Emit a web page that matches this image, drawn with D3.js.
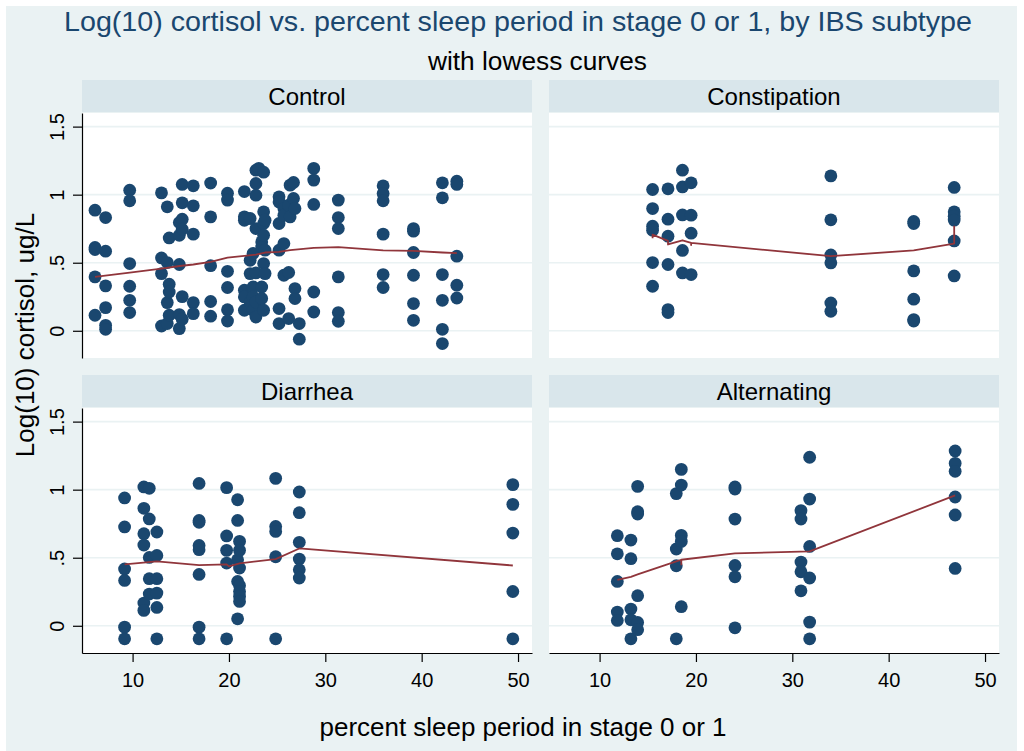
<!DOCTYPE html>
<html><head><meta charset="utf-8">
<script src="https://cdn.jsdelivr.net/npm/d3@7"></script>
<style>
body{margin:0;background:#fff}
svg{display:block}
text{font-family:"Liberation Sans",Arial,sans-serif}
</style>
</head><body>
<svg id="chart" width="1024" height="751"></svg>
<script>
// ---------- DATA ----------
const titleText = "Log(10) cortisol vs. percent sleep period in stage 0 or 1, by IBS subtype";
const subtitleText = "with lowess curves";
const xTitleText = "percent sleep period in stage 0 or 1";
const yTitleText = "Log(10) cortisol, ug/L";
const panelNames = ["Control", "Constipation", "Diarrhea", "Alternating"];
const xTicks = [10, 20, 30, 40, 50];
const yTicks = [0, 0.5, 1, 1.5];
const yTickLabels = ["0", ".5", "1", "1.5"];

const controlPts = [
[6.1,0.886],[6.1,0.612],[6.1,0.597],[6.1,0.396],[6.1,0.114],
[7.2,0.832],[7.2,0.585],[7.2,0.33],[7.2,0.17],[7.2,0.04],[7.2,0.011],
[9.7,1.033],[9.7,0.955],[9.7,0.494],[9.7,0.327],[9.7,0.224],[9.7,0.134],
[13.0,1.013],[13.0,0.535],[13.0,0.42],[13.0,0.035],
[13.6,0.911],[13.6,0.501],[13.6,0.207],[13.6,0.053],
[13.8,0.682],[13.8,0.342],[13.8,0.285],[13.8,0.114],
[14.85,0.795],[14.85,0.702],[14.85,0.487],[14.85,0.119],[14.85,0.016],
[15.15,1.075],[15.15,0.94],[15.15,0.82],[15.15,0.746],[15.15,0.251],[15.15,0.085],
[16.3,1.065],[16.3,0.918],[16.3,0.71],[16.3,0.207],[16.3,0.126],
[18.1,1.085],[18.1,0.837],[18.1,0.478],[18.1,0.215],[18.1,0.107],
[19.85,1.011],[19.85,0.96],[19.85,0.437],[19.85,0.318],[19.85,0.155],[19.85,0.072],
[21.6,1.023],[21.6,0.837],[21.6,0.812],[21.6,0.298],[21.6,0.249],[21.6,0.151],
[22.2,0.825],[22.2,0.518],[22.2,0.42],[22.2,0.212],
[22.5,0.568],[22.5,0.322],[22.5,0.249],[22.5,0.151],
[22.8,1.18],[22.8,1.082],[22.8,0.996],[22.8,0.751],[22.8,0.425],[22.8,0.212],[22.8,0.101],
[23.1,1.193],
[23.4,0.653],[23.4,0.616],[23.4,0.322],[23.4,0.237],
[23.6,1.165],[23.6,0.874],[23.6,0.788],[23.6,0.702],[23.6,0.494],[23.6,0.151],
[23.75,0.812],[23.75,0.592],[23.75,0.42],
[25.2,0.984],[25.2,0.947],[25.2,0.788],[25.2,0.592],[25.2,0.163],[25.2,0.053],
[25.7,0.898],[25.7,0.849],[25.7,0.641],[25.7,0.408],
[26.2,0.923],[26.2,0.428],[26.2,0.09],
[26.35,1.07],[26.35,0.837],
[26.7,1.09],[26.7,0.972],
[26.85,0.898],[26.85,0.31],[26.85,0.237],
[27.3,0.053],[27.3,-0.062],
[28.8,1.193],[28.8,1.107],[28.8,0.928],[28.8,0.285],[28.8,0.138],
[31.35,0.96],[31.35,0.832],[31.35,0.751],[31.35,0.396],[31.35,0.134],[31.35,0.07],
[36.0,1.065],[36.0,1.009],[36.0,0.955],[36.0,0.71],[36.0,0.413],[36.0,0.318],
[39.15,0.751],[39.15,0.732],[39.15,0.575],[39.15,0.408],[39.15,0.2],[39.15,0.077],
[42.15,1.087],[42.15,0.977],[42.15,0.413],[42.15,0.224],[42.15,0.011],[42.15,-0.094],
[43.65,1.099],[43.65,1.075],[43.65,0.548],[43.65,0.335],[43.65,0.241]
];
const controlLowess = [[6.1,0.396],[9.7,0.428],[13.0,0.457],[14.9,0.476],[16.3,0.487],[18.1,0.506],
[19.85,0.538],[21.6,0.55],[22.8,0.56],[23.75,0.575],[25.2,0.579],[26.35,0.592],[28.8,0.609],
[31.35,0.614],[36.0,0.59],[39.15,0.587],[42.15,0.575],[43.65,0.57]];

const constipationPts = [
[15.5,1.038],[15.5,0.898],[15.5,0.768],[15.5,0.739],[15.5,0.501],[15.5,0.327],
[17.1,1.043],[17.1,0.82],[17.1,0.695],[17.1,0.487],[17.1,0.156],[17.1,0.134],
[18.6,1.18],[18.6,1.057],[18.6,0.851],[18.6,0.59],[18.6,0.425],
[19.5,1.087],[19.5,0.849],[19.5,0.717],[19.5,0.413],
[34.0,1.138],[34.0,0.815],[34.0,0.557],[34.0,0.499],[34.0,0.204],[34.0,0.143],
[42.6,0.803],[42.6,0.788],[42.6,0.44],[42.6,0.232],[42.6,0.082],[42.6,0.072],
[46.8,1.053],[46.8,0.874],[46.8,0.842],[46.8,0.813],[46.8,0.66],[46.8,0.403]
];
const constipationLowess = [[15.5,0.68],[15.5,0.707],[17.1,0.66],[17.1,0.634],[18.6,0.665],
[19.5,0.646],[19.5,0.63],[19.5,0.646],[34.0,0.548],[42.6,0.59],[46.8,0.641],[46.8,0.771]];

const diarrheaPts = [
[9.17,0.939],[9.17,0.726],[9.17,0.417],[9.17,0.333],[9.17,-0.01],[9.17,-0.096],
[11.17,1.02],[11.17,0.863],[11.17,0.676],[11.17,0.593],[11.17,0.167],[11.17,0.113],
[11.73,1.01],[11.73,0.785],[11.73,0.502],[11.73,0.346],[11.73,0.233],
[12.52,0.689],[12.52,0.517],[12.52,0.346],[12.52,0.24],[12.52,0.135],[12.52,-0.096],
[16.9,1.046],[16.9,0.774],[16.9,0.76],[16.9,0.59],[16.9,0.559],[16.9,0.377],[16.9,-0.01],[16.9,-0.096],
[19.76,1.015],[19.76,0.66],[19.76,0.554],[19.76,0.461],[19.76,-0.096],
[20.9,0.926],[20.9,0.774],[20.9,0.485],[20.9,0.326],[20.9,0.051],
[21.1,0.62],[21.1,0.554],[21.1,0.424],[21.1,0.296],[21.1,0.252],[21.1,0.216],[21.1,0.179],
[24.85,1.083],[24.85,0.73],[24.85,0.693],[24.85,0.507],[24.85,-0.096],
[27.3,0.983],[27.3,0.831],[27.3,0.613],[27.3,0.49],[27.3,0.412],[27.3,0.351],
[49.46,1.037],[49.46,0.892],[49.46,0.681],[49.46,0.252],[49.46,-0.096]
];
const diarrheaLowess = [[9.17,0.451],[12.52,0.473],[16.9,0.446],[19.76,0.451],[20.0,0.436],
[21.1,0.458],[24.85,0.49],[27.3,0.568],[49.46,0.443]];

const alternatingPts = [
[11.84,0.662],[11.84,0.529],[11.84,0.326],[11.84,0.101],[11.84,0.039],
[13.25,0.63],[13.25,0.493],[13.25,0.123],[13.25,0.044],[13.25,-0.096],
[13.95,1.024],[13.95,0.838],[13.95,0.821],[13.95,0.221],[13.95,0.024],[13.95,-0.029],
[17.96,0.971],[17.96,0.564],[17.96,0.441],[17.96,-0.096],
[18.48,1.149],[18.48,1.034],[18.48,0.664],[18.48,0.62],[18.48,0.14],
[24.05,1.02],[24.05,1.005],[24.05,0.784],[24.05,0.443],[24.05,0.36],[24.05,-0.015],
[30.9,0.846],[30.9,0.784],[30.9,0.468],[30.9,0.397],[30.9,0.257],
[31.8,1.238],[31.8,0.931],[31.8,0.583],[31.8,0.351],[31.8,0.027],[31.8,-0.096],
[46.9,1.284],[46.9,1.193],[46.9,1.135],[46.9,0.946],[46.9,0.814],[46.9,0.421]
];
const alternatingLowess = [[11.84,0.338],[13.25,0.36],[13.95,0.377],[17.96,0.473],[18.48,0.485],
[18.48,0.451],[18.48,0.485],[24.05,0.532],[31.8,0.546],[46.9,0.958]];

const panelPoints = [controlPts, constipationPts, diarrheaPts, alternatingPts];
const panelLowess = [controlLowess, constipationLowess, diarrheaLowess, alternatingLowess];

// ---------- LAYOUT ----------
const W = 1024, H = 751;
const plotW = 450, plotH = 245;
const colX = [82, 549];
const rowY = [113, 408];
const stripH = 33;
const xDomain = [4.75, 51.45];
const yDomain = [-0.2, 1.6];
const colors = {bg: "#eaf2f3", strip: "#d9e6eb", marker: "#1a476f", line: "#90353b", grid: "#eaf2f3", title: "#1a476f"};

const svg = d3.select("#chart");
svg.append("rect").attr("x", 0).attr("y", 0).attr("width", W).attr("height", H).attr("fill", "#fff");
svg.append("rect").attr("x", 6).attr("y", 6).attr("width", 1011).attr("height", 745).attr("fill", colors.bg);

function fitText(sel, width) {
  sel.attr("textLength", width).attr("lengthAdjust", "spacingAndGlyphs");
}

// Titles
svg.append("text").attr("x", 518).attr("y", 31).attr("text-anchor", "middle")
  .attr("font-size", 28.5).attr("fill", colors.title).text(titleText).call(fitText, 908);
svg.append("text").attr("x", 537.5).attr("y", 70).attr("text-anchor", "middle")
  .attr("font-size", 25.5).attr("fill", "#000").text(subtitleText).call(fitText, 219);

panelNames.forEach((name, i) => {
  const c = i % 2, r = Math.floor(i / 2);
  const x0 = colX[c], y0 = rowY[r];
  const xs = d3.scaleLinear().domain(xDomain).range([x0, x0 + plotW]);
  const ys = d3.scaleLinear().domain(yDomain).range([y0 + plotH, y0]);
  const g = svg.append("g");

  // strip
  g.append("rect").attr("x", x0).attr("y", y0 - stripH).attr("width", plotW).attr("height", stripH - 1)
    .attr("fill", colors.strip);
  g.append("text").attr("x", x0 + plotW / 2).attr("y", y0 - 8.5).attr("text-anchor", "middle")
    .attr("font-size", 24).attr("fill", "#000").text(name);

  // plot region
  g.append("rect").attr("x", x0).attr("y", y0).attr("width", plotW).attr("height", plotH).attr("fill", "#fff");

  // gridlines
  g.append("g").selectAll("line").data(yTicks).join("line")
    .attr("x1", x0).attr("x2", x0 + plotW)
    .attr("y1", d => ys(d)).attr("y2", d => ys(d))
    .attr("stroke", colors.grid).attr("stroke-width", 1.6);

  // markers
  g.append("g").selectAll("circle").data(panelPoints[i]).join("circle")
    .attr("cx", d => xs(d[0])).attr("cy", d => ys(d[1])).attr("r", 6.4)
    .attr("fill", colors.marker);

  // lowess
  g.append("path").datum(panelLowess[i])
    .attr("d", d3.line().x(d => xs(d[0])).y(d => ys(d[1])))
    .attr("fill", "none").attr("stroke", colors.line).attr("stroke-width", 1.8)
    .attr("stroke-linejoin", "round");

  // y axis on left column
  if (c === 0) {
    const ya = g.append("g").attr("transform", `translate(${x0},0)`)
      .call(d3.axisLeft(ys).tickValues(yTicks).tickFormat((d, k) => yTickLabels[k]).tickSize(9).tickSizeOuter(0));
    ya.select(".domain").attr("stroke", "#000").attr("stroke-width", 1.2);
    ya.selectAll(".tick line").attr("stroke", "#000").attr("stroke-width", 1.2);
    ya.selectAll(".tick text")
      .attr("x", 0).attr("y", 0).attr("dy", "0.36em")
      .attr("text-anchor", "middle")
      .attr("transform", "translate(-25,0) rotate(-90)")
      .attr("font-size", 20).attr("font-family", "Liberation Sans, Arial, sans-serif").attr("fill", "#000");
  }
  // x axis on bottom row
  if (r === 1) {
    const xa = g.append("g").attr("transform", `translate(0,${y0 + plotH})`)
      .call(d3.axisBottom(xs).tickValues(xTicks).tickFormat(d3.format("d")).tickSize(9).tickSizeOuter(0).tickPadding(11));
    xa.select(".domain").attr("stroke", "#000").attr("stroke-width", 1.2);
    xa.selectAll(".tick line").attr("stroke", "#000").attr("stroke-width", 1.2);
    xa.selectAll(".tick text").attr("font-size", 20).attr("font-family", "Liberation Sans, Arial, sans-serif").attr("fill", "#000");
  }
});

// axis titles
svg.append("text").attr("x", 523).attr("y", 736).attr("text-anchor", "middle")
  .attr("font-size", 25.8).attr("fill", "#000").text(xTitleText).call(fitText, 407);
svg.append("text").attr("transform", "translate(34,335) rotate(-90)").attr("text-anchor", "middle")
  .attr("font-size", 26).attr("fill", "#000").text(yTitleText);
</script>
</body></html>
